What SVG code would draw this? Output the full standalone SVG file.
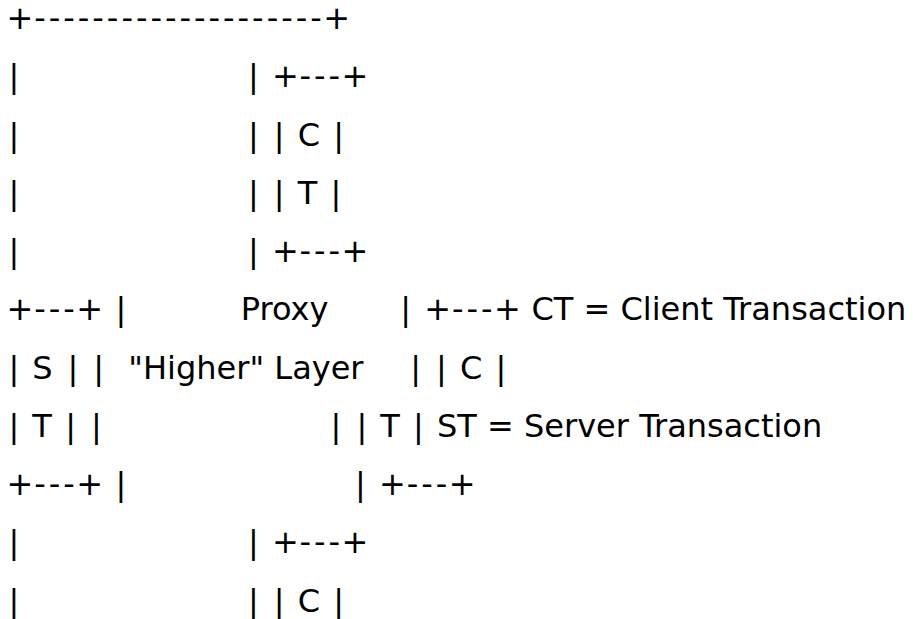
<svg xmlns="http://www.w3.org/2000/svg" width="913" height="619" viewBox="0 0 913 619" xml:space="preserve">
<style>
text { font-family: "DejaVu Sans", Verdana, sans-serif; font-size: 32px; fill: #000; white-space: pre; }
</style>
<rect width="913" height="619" fill="#fff"/>
<g id="diagram">
<text id="row0" y="29"><tspan x="6.5 34.2 48.7 63.2 77.8 92.3 106.8 121.4 135.9 150.4 164.9 179.5 194 208.5 223.1 237.6 252.1 266.7 281.2 295.7 310.2 323.3">+--------------------+</tspan></text>
<text id="row1" y="87.25"><tspan x="8.4">|</tspan>                    <tspan x="248">|</tspan> <tspan x="271.9 299.5 314.1 328.6 341.6">+---+</tspan></text>
<text id="row2" y="145.5"><tspan x="8.4">|</tspan>                    <tspan x="248">|</tspan> <tspan x="273.8">|</tspan> <tspan x="297.7">C</tspan> <tspan x="333.2">|</tspan></text>
<text id="row3" y="203.75"><tspan x="8.4">|</tspan>                    <tspan x="248">|</tspan> <tspan x="273.8">|</tspan> <tspan x="297.7">T</tspan> <tspan x="330.6">|</tspan></text>
<text id="row4" y="262"><tspan x="8.4">|</tspan>                    <tspan x="248">|</tspan> <tspan x="271.9 299.5 314.1 328.6 341.6">+---+</tspan></text>
<text id="row5" y="320.25"><tspan x="6.5 34.2 48.7 63.2 76.3">+---+</tspan> <tspan x="115.6">|</tspan>          <tspan x="240.7">Proxy</tspan>      <tspan x="400.3">|</tspan> <tspan x="424.2 451.9 466.4 480.9 494">+---+</tspan> <tspan x="531.4">CT = Client Transaction</tspan></text>
<text id="row6" y="378.5"><tspan x="8.4">|</tspan> <tspan x="32.3">S</tspan> <tspan x="67.4">|</tspan> <tspan x="93.2">|</tspan>  <tspan x="128.3">"Higher" Layer</tspan>    <tspan x="410.3">|</tspan> <tspan x="436.1">|</tspan> <tspan x="460">C</tspan> <tspan x="495.5">|</tspan></text>
<text id="row7" y="436.75"><tspan x="8.4">|</tspan> <tspan x="32.3">T</tspan> <tspan x="65.2">|</tspan> <tspan x="91">|</tspan>                    <tspan x="330.6">|</tspan> <tspan x="356.4">|</tspan> <tspan x="380.3">T</tspan> <tspan x="413.1">|</tspan> <tspan x="437">ST = Server Transaction</tspan></text>
<text id="row8" y="495"><tspan x="6.5 34.2 48.7 63.2 76.3">+---+</tspan> <tspan x="115.6">|</tspan>                    <tspan x="355.1">|</tspan> <tspan x="379.1 406.7 421.3 435.8 448.8">+---+</tspan></text>
<text id="row9" y="553.25"><tspan x="8.4">|</tspan>                    <tspan x="248">|</tspan> <tspan x="271.9 299.5 314.1 328.6 341.6">+---+</tspan></text>
<text id="row10" y="611.5"><tspan x="8.4">|</tspan>                    <tspan x="248">|</tspan> <tspan x="273.8">|</tspan> <tspan x="297.7">C</tspan> <tspan x="333.2">|</tspan></text>
</g>
</svg>
